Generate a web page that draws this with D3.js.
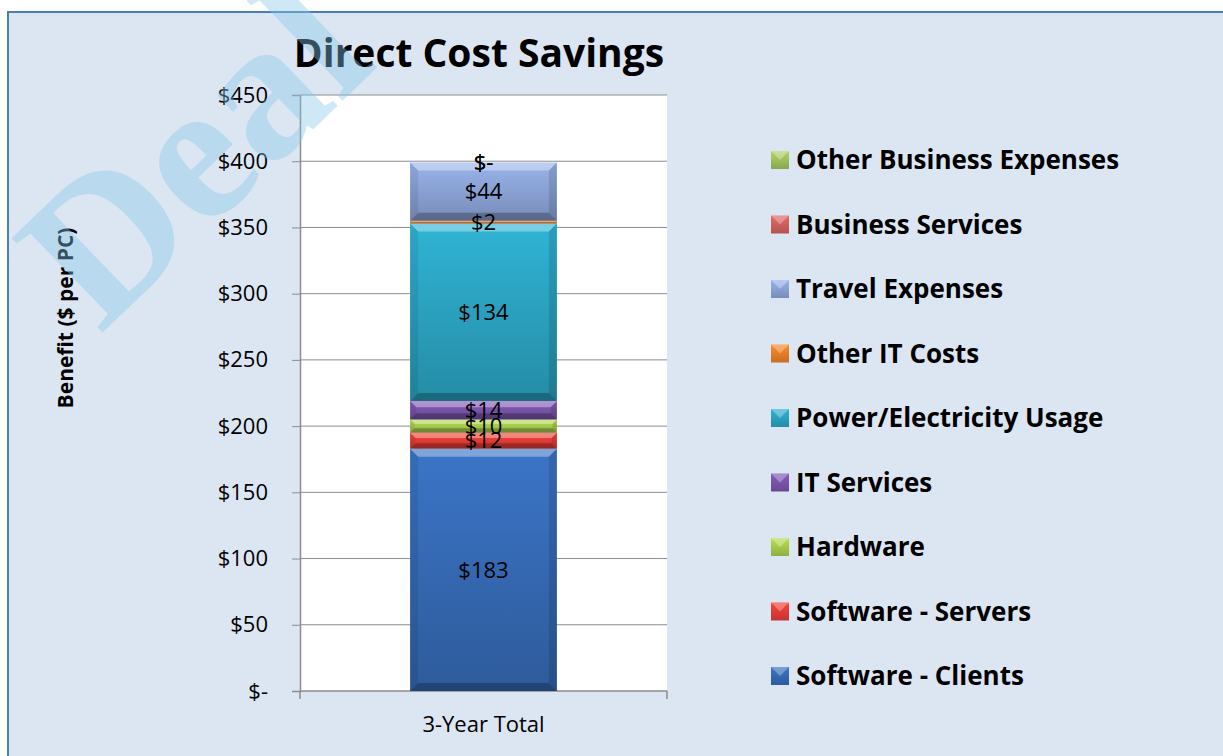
<!DOCTYPE html>
<html>
<head>
<meta charset="utf-8">
<title>Direct Cost Savings</title>
<script src="https://d3js.org/d3.v7.min.js"></script>
<style>
  body { margin: 0; background: #fff; }
  svg text { font-family: "Open Sans", sans-serif; }
</style>
</head>
<body>
<script>
var width = 1223, height = 756;

// data
var categories = ["3-Year Total"];
var seriesNames = ["Software - Clients", "Software - Servers", "Hardware", "IT Services",
  "Power/Electricity Usage", "Other IT Costs", "Travel Expenses", "Business Services",
  "Other Business Expenses"];
var seriesValues = [183, 12, 10, 14, 134, 2, 44, 0, 0];
var seriesColors = ["#3467b0", "#de3b35", "#a3c64a", "#7752a6", "#2a9fbc", "#e47c26",
  "#879fd0", "#c95e5c", "#9cbc5c"];
var yTicks = [0, 50, 100, 150, 200, 250, 300, 350, 400, 450];

var plot = {left: 300, right: 667, top: 95, bottom: 691};

var svg = d3.select("body").append("svg")
  .attr("width", width).attr("height", height);

var defs = svg.append("defs");
seriesColors.forEach(function(c, i) {
  var g = defs.append("linearGradient").attr("id", "grad" + i)
    .attr("x1", 0).attr("y1", 0).attr("x2", 0).attr("y2", 1);
  g.append("stop").attr("offset", "0%").attr("stop-color", d3.color(c).brighter(0.35));
  g.append("stop").attr("offset", "100%").attr("stop-color", d3.color(c).darker(0.35));
});

// chart background + frame
svg.append("rect").attr("x", 8).attr("y", 12).attr("width", width).attr("height", height)
  .attr("fill", "#dce6f2").attr("stroke", "#4a7ebb").attr("stroke-width", 2);

var x = d3.scaleBand().domain(categories).range([plot.left, plot.right]).paddingInner(0.6).paddingOuter(0.3);
var y = d3.scaleLinear().domain([0, 450]).range([plot.bottom, plot.top]);

svg.append("rect").attr("x", plot.left).attr("y", plot.top)
  .attr("width", plot.right - plot.left).attr("height", plot.bottom - plot.top).attr("fill", "#fff");

// grid
svg.append("g").selectAll("line").data(yTicks.slice(1)).enter().append("line")
  .attr("x1", plot.left).attr("x2", plot.right)
  .attr("y1", function(d) { return y(d); }).attr("y2", function(d) { return y(d); })
  .attr("stroke", "#8c8c8c").attr("stroke-width", 1);

var fmt = function(d) { return d === 0 ? "$-" : "$" + d; };

var yAxis = svg.append("g").attr("transform", "translate(" + plot.left + ",0)")
  .call(d3.axisLeft(y).tickValues(yTicks).tickFormat(fmt).tickSize(8).tickPadding(24));
yAxis.select(".domain").attr("stroke", "#8c8c8c").attr("stroke-width", 1.5);
yAxis.selectAll(".tick line").attr("stroke", "#8c8c8c");
yAxis.selectAll("text").attr("font-size", 22).attr("fill", "#000")
  .style("font-family", "'Open Sans', sans-serif");

var xAxis = svg.append("g").attr("transform", "translate(0," + plot.bottom + ")")
  .call(d3.axisBottom(x).tickSize(0).tickPadding(25));
xAxis.select(".domain").remove();
xAxis.selectAll("text").attr("font-size", 22).attr("fill", "#000")
  .style("font-family", "'Open Sans', sans-serif");
svg.append("line").attr("x1", plot.left).attr("x2", plot.right)
  .attr("y1", plot.bottom).attr("y2", plot.bottom).attr("stroke", "#8c8c8c").attr("stroke-width", 1.5);
[plot.left, plot.right].forEach(function(px) {
  svg.append("line").attr("x1", px).attr("x2", px).attr("y1", plot.bottom).attr("y2", plot.bottom + 8)
    .attr("stroke", "#8c8c8c").attr("stroke-width", 1.5);
});

// stacked segments
var stackData = [{}];
seriesNames.forEach(function(n, i) { stackData[0][n] = seriesValues[i]; });
var stacked = d3.stack().keys(seriesNames)(stackData);

var bx = x(categories[0]), bw = x.bandwidth();
stacked.forEach(function(s, i) {
  var d = s[0];
  var y0 = y(d[0]), y1 = y(d[1]), h = y0 - y1;
  var g = svg.append("g");
  if (h > 0) {
    g.append("rect").attr("x", bx).attr("y", y1).attr("width", bw).attr("height", h)
      .attr("fill", "url(#grad" + i + ")");
    var b = Math.min(8, h / 3);
    // bevel: top light, bottom dark, sides
    g.append("path").attr("d", "M" + bx + "," + y1 + "L" + (bx + bw) + "," + y1 + "L" + (bx + bw - b) + "," + (y1 + b) + "L" + (bx + b) + "," + (y1 + b) + "Z")
      .attr("fill", "#fff").attr("opacity", 0.35);
    g.append("path").attr("d", "M" + bx + "," + y0 + "L" + (bx + bw) + "," + y0 + "L" + (bx + bw - b) + "," + (y0 - b) + "L" + (bx + b) + "," + (y0 - b) + "Z")
      .attr("fill", "#000").attr("opacity", 0.25);
    g.append("path").attr("d", "M" + bx + "," + y1 + "L" + (bx + b) + "," + (y1 + b) + "L" + (bx + b) + "," + (y0 - b) + "L" + bx + "," + y0 + "Z")
      .attr("fill", "#000").attr("opacity", 0.08);
    g.append("path").attr("d", "M" + (bx + bw) + "," + y1 + "L" + (bx + bw - b) + "," + (y1 + b) + "L" + (bx + bw - b) + "," + (y0 - b) + "L" + (bx + bw) + "," + y0 + "Z")
      .attr("fill", "#000").attr("opacity", 0.12);
  }
});

// data labels
stacked.forEach(function(s, i) {
  var d = s[0];
  svg.append("text").attr("x", bx + bw / 2).attr("y", y((d[0] + d[1]) / 2))
    .attr("dy", "0.35em").attr("text-anchor", "middle").attr("font-size", 22).attr("fill", "#000")
    .text(fmt(seriesValues[i]));
});

// legend
var legend = svg.append("g");
var order = seriesNames.map(function(n, i) { return i; }).reverse();
order.forEach(function(i, k) {
  var ly = 160 + k * 64.5;
  legend.append("rect").attr("x", 771).attr("y", ly - 9).attr("width", 18).attr("height", 18)
    .attr("fill", "url(#grad" + i + ")");
  legend.append("path").attr("d", "M771," + (ly - 9) + "L789," + (ly - 9) + "L780," + ly + "Z")
    .attr("fill", "#fff").attr("opacity", 0.3);
  legend.append("text").attr("x", 796).attr("y", ly).attr("dy", "0.35em")
    .attr("font-size", 26).attr("font-weight", "bold").attr("fill", "#000").text(seriesNames[i]);
});

// title
svg.append("text").attr("x", 479).attr("y", 67).attr("text-anchor", "middle")
  .attr("font-size", 39).attr("font-weight", "bold").attr("fill", "#000").text("Direct Cost Savings");

// y axis title
svg.append("text").attr("transform", "translate(73,318) rotate(-90)").attr("text-anchor", "middle")
  .attr("font-size", 21).attr("font-weight", "bold").attr("fill", "#000").text("Benefit ($ per PC)");

// watermark
svg.append("text").attr("transform", "translate(100,335) rotate(-44)")
  .attr("font-size", 200).attr("font-weight", "bold").attr("fill", "#86c6ea").attr("opacity", 0.4)
  .style("font-family", "'Liberation Serif', serif").text("Deal");
</script>
</body>
</html>
